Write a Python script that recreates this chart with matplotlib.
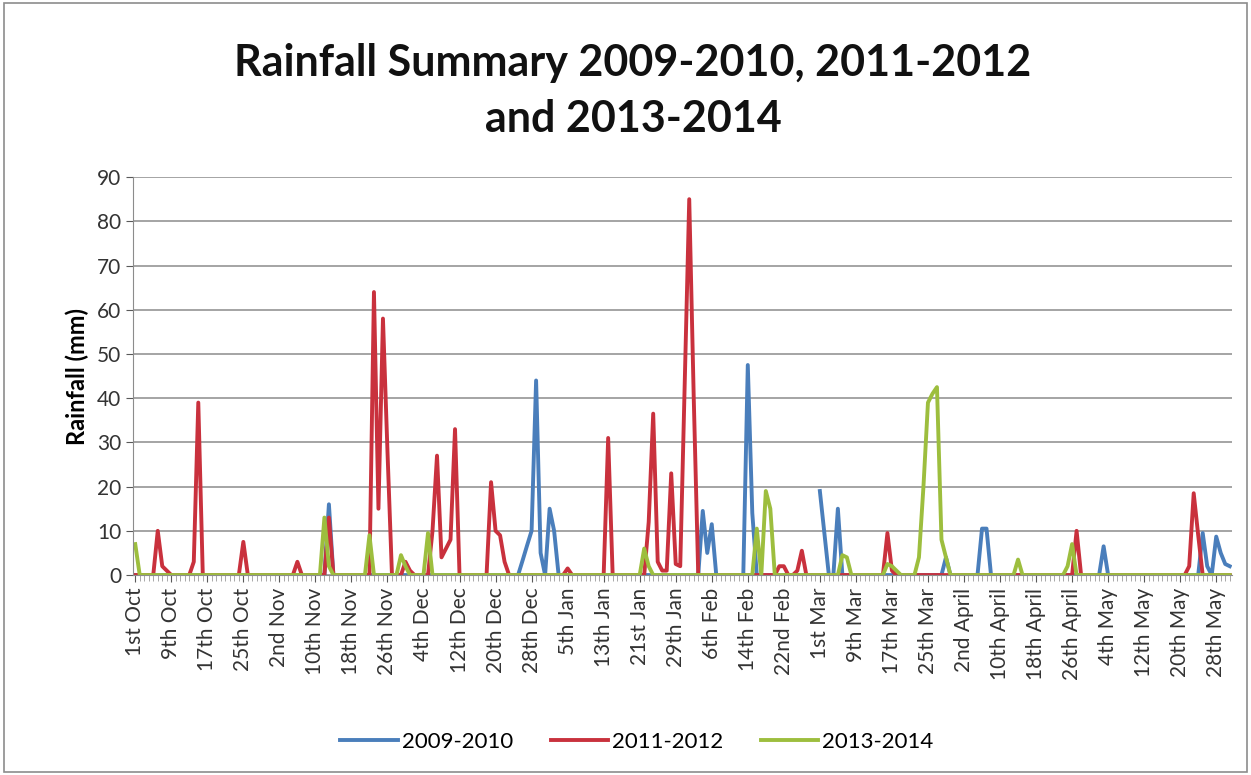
import numpy as np
import matplotlib.pyplot as plt
from matplotlib.patches import Rectangle

plt.rcParams["font.family"] = ["Lato", "DejaVu Sans"]

# one category per day, 1st Oct (day 0) to 31st May (day 243)
n_days = 244
tick_labels = ["1st Oct", "9th Oct", "17th Oct", "25th Oct", "2nd Nov", "10th Nov",
               "18th Nov", "26th Nov", "4th Dec", "12th Dec", "20th Dec", "28th Dec",
               "5th Jan", "13th Jan", "21st Jan", "29th Jan", "6th Feb", "14th Feb",
               "22nd Feb", "1st Mar", "9th Mar", "17th Mar", "25th Mar", "2nd April",
               "10th April", "18th April", "26th April", "4th May", "12th May",
               "20th May", "28th May"]

# rain days (day index, mm); every other day reads 0
blue_days = [43, 86, 87, 88, 89, 90, 92, 93, 126, 127, 128, 136, 137, 152, 153, 156,
             180, 188, 189, 215, 237, 238, 240, 241, 242, 243]
blue_mm = [16, 3.3, 6.7, 10, 44, 5, 15, 10, 14.5, 5, 11.5, 47.5, 14, 19, 9.5, 15,
           4, 10.5, 10.5, 6.5, 9.5, 2, 8.7, 5, 2.5, 2]
blue_missing = [151]

red_days = [5, 6, 7, 13, 14, 24, 36, 43, 53, 54, 55, 56, 60, 61, 66, 67, 68, 69, 70, 71,
            79, 80, 81, 82, 96, 105, 114, 115, 116, 117, 118, 119, 120, 121, 122, 123,
            124, 143, 144, 147, 148, 167, 168, 209, 234, 235, 236]
red_mm = [10, 2, 1, 3, 39, 7.5, 3, 13, 64, 15, 58, 28, 3, 1, 10, 27, 4, 6, 8, 33,
          21, 10, 9, 3, 1.5, 31, 12, 36.5, 3, 1, 1, 23, 2.5, 2, 43, 85,
          40, 2, 2, 1, 5.5, 9.5, 1, 10, 2, 18.5, 9]

green_days = [0, 42, 43, 52, 59, 60, 65, 113, 114, 138, 140, 141, 157, 158, 167, 168,
              169, 174, 175, 176, 177, 178, 179, 180, 196, 207, 208]
green_mm = [7, 13, 2, 9, 4.5, 2, 9.5, 6, 2, 10.5, 19, 15, 4.5, 4, 2.5, 2,
            1, 4, 20, 39, 41, 42.5, 8, 4, 3.5, 2, 7]


def daily(days, mm, missing=()):
    s = np.zeros(n_days)
    s[days] = mm
    s[list(missing)] = np.nan
    return s


days = np.arange(n_days)
fig = plt.figure(figsize=(12.51, 7.75), dpi=100)
ax = fig.add_axes([0.1063, 0.258, 0.8785, 0.5135])

ax.plot(days, daily(blue_days, blue_mm, blue_missing), color="#4A7EBB", lw=2.8, label="2009-2010")
ax.plot(days, daily(red_days, red_mm), color="#C9313D", lw=2.8, label="2011-2012")
ax.plot(days, daily(green_days, green_mm), color="#9DBE3E", lw=2.8, label="2013-2014")

ax.set_xlim(-0.5, n_days - 0.5)
ax.set_ylim(0, 90)
ax.set_yticks(range(0, 91, 10))
ax.set_xticks(np.arange(0, n_days, 8))
ax.set_xticklabels(tick_labels, rotation=90)
ax.set_xticks(days, minor=True)
ax.tick_params(axis="both", labelsize=15, colors="#595959", labelcolor="#333333")
ax.tick_params(axis="x", which="major", length=5, pad=4)
ax.tick_params(axis="x", which="minor", length=4, color="#9a9a9a")
ax.tick_params(axis="y", length=5)
ax.grid(axis="y", color="#8c8c8c", lw=1.1)
ax.set_axisbelow(True)
for side in ["top", "right"]:
    ax.spines[side].set_visible(False)
for side in ["left", "bottom"]:
    ax.spines[side].set_color("#8c8c8c")
ax.set_ylabel("Rainfall (mm)", fontsize=17, fontweight="bold", labelpad=6)

fig.suptitle("Rainfall Summary 2009-2010, 2011-2012\nand 2013-2014", x=0.506, y=0.945,
             fontsize=31, fontweight="bold", linespacing=1.5, color="#111111")

fig.legend(loc="center", bbox_to_anchor=(0.509, 0.043), ncol=3, frameon=False,
           fontsize=16, handlelength=2.6, columnspacing=1.7, handletextpad=0.15)

fig.patches.append(Rectangle((0.003, 0.004), 0.994, 0.992, transform=fig.transFigure,
                             fill=False, edgecolor="#8c8c8c", lw=1.2))

plt.savefig("out.png", dpi=100)
